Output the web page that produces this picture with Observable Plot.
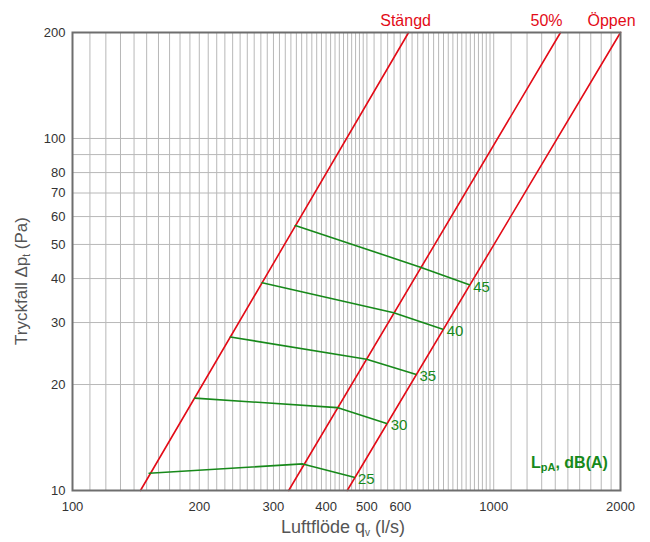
<!DOCTYPE html>
<html>
<head>
<meta charset="utf-8">
<script src="https://cdn.jsdelivr.net/npm/d3@7"></script>
<script src="https://cdn.jsdelivr.net/npm/@observablehq/plot@0.6"></script>
<style>
  html, body { margin: 0; padding: 0; background: #fff; }
  #chart { width: 650px; height: 542px; }
</style>
</head>
<body>
<div id="chart"></div>
<script>
// ---- data ----
const xTicks = [100, 200, 300, 400, 500, 600, 700, 800, 1000, 2000];
const yTicks = [10, 20, 30, 40, 50, 60, 70, 80, 100, 200];

// damper positions: flow (l/s) at 10 Pa and at 200 Pa
const damperNames = ["Stängd", "50%", "Öppen"];
const damperQlow  = [145, 326, 449];
const damperQhigh = [628, 1441, 2000];
const damperPlow  = 10;
const damperPhigh = 200;

// sound level lines LpA dB(A): points on Stängd, 50%, Öppen
const levels = [25, 30, 35, 40, 45];
const levelQ = [
  [152, 352, 466],
  [195, 425, 557],
  [237, 499, 652],
  [282, 579, 757],
  [338, 670, 875]
];
const levelP = [
  [11.2, 11.9, 10.9],
  [18.3, 17.2, 15.5],
  [27.3, 23.6, 21.4],
  [38.9, 32.0, 28.7],
  [56.6, 43.1, 38.4]
];

// ---- build tables ----
const damperData = damperNames.flatMap((name, i) => [
  {name, q: damperQlow[i], p: damperPlow},
  {name, q: damperQhigh[i], p: damperPhigh}
]);
const damperTops = damperNames.map((name, i) => ({name, q: damperQhigh[i], p: damperPhigh}));
const levelData = levels.flatMap((lv, i) => levelQ[i].map((q, j) => ({level: lv, q, p: levelP[i][j]})));
const levelEnds = levels.map((lv, i) => ({level: lv, q: levelQ[i][2], p: levelP[i][2]}));

// grid lines
const xGrid = [...d3.range(110, 500, 10), ...d3.range(500, 1000, 20), ...d3.range(1000, 2000, 100)];
const yGrid = d3.range(20, 101, 10);

const RED = "#e30b17";
const GREEN = "#17891a";
const FONT = "'Liberation Sans', Arial, Helvetica, sans-serif";
const labelDx = {"Stängd": -3, "50%": -14, "Öppen": -9};

const chart = Plot.plot({
  width: 650,
  height: 542,
  marginLeft: 72,
  marginRight: 30,
  marginTop: 32,
  marginBottom: 52,
  style: {fontFamily: FONT, background: "#fff", overflow: "visible"},
  x: {type: "log", domain: [100, 2000]},
  y: {type: "log", domain: [10, 200]},
  marks: [
    Plot.ruleX(xGrid, {stroke: "#b8b8b8", strokeWidth: 1}),
    Plot.ruleY(yGrid, {stroke: "#b8b8b8", strokeWidth: 1}),
    Plot.axisX(xTicks, {tickSize: 0, tickPadding: 11, label: null, fontSize: 13, fill: "#333", tickFormat: d => String(d)}),
    Plot.axisY(yTicks, {tickSize: 0, tickPadding: 7, label: null, fontSize: 13, fill: "#333", tickFormat: d => String(d)}),
    Plot.line(damperData, {x: "q", y: "p", z: "name", stroke: RED, strokeWidth: 1.6}),
    Plot.line(levelData, {x: "q", y: "p", z: "level", stroke: GREEN, strokeWidth: 1.6}),
    Plot.text(levelEnds, {x: "q", y: "p", text: d => String(d.level), dx: 4, dy: 2, textAnchor: "start", fill: GREEN, fontSize: 15}),
    ...damperNames.map(n => Plot.text(damperTops.filter(d => d.name === n), {
      x: "q", y: "p", text: "name", dx: labelDx[n], dy: -7, lineAnchor: "bottom",
      textAnchor: "middle", fill: RED, fontSize: 16
    })),
    Plot.frame({stroke: "#6e6e6e", strokeWidth: 2})
  ]
});

const svg = d3.select(chart);
// x axis title
const xt = svg.append("text")
  .attr("x", 343).attr("y", 533)
  .attr("text-anchor", "middle")
  .attr("font-size", 18).attr("fill", "#555")
  .attr("font-family", FONT);
xt.append("tspan").text("Luftflöde q");
xt.append("tspan").attr("font-size", 10).attr("dy", 3).text("v");
xt.append("tspan").attr("dy", -3).text(" (l/s)");

// y axis title
const yt = svg.append("text")
  .attr("transform", "translate(27,281) rotate(-90)")
  .attr("text-anchor", "middle")
  .attr("font-size", 17).attr("fill", "#555")
  .attr("font-family", FONT);
yt.append("tspan").text("Tryckfall Δp");
yt.append("tspan").attr("font-size", 10).attr("dy", 3).text("t");
yt.append("tspan").attr("dy", -3).text(" (Pa)");

// LpA label
const lt = svg.append("text")
  .attr("x", 531).attr("y", 468)
  .attr("text-anchor", "start")
  .attr("font-size", 16).attr("font-weight", "bold").attr("fill", GREEN)
  .attr("font-family", FONT);
lt.append("tspan").text("L");
lt.append("tspan").attr("font-size", 11).attr("dy", 3).text("pA");
lt.append("tspan").attr("dy", -3).text(", dB(A)");

document.getElementById("chart").appendChild(chart);
</script>
</body>
</html>
